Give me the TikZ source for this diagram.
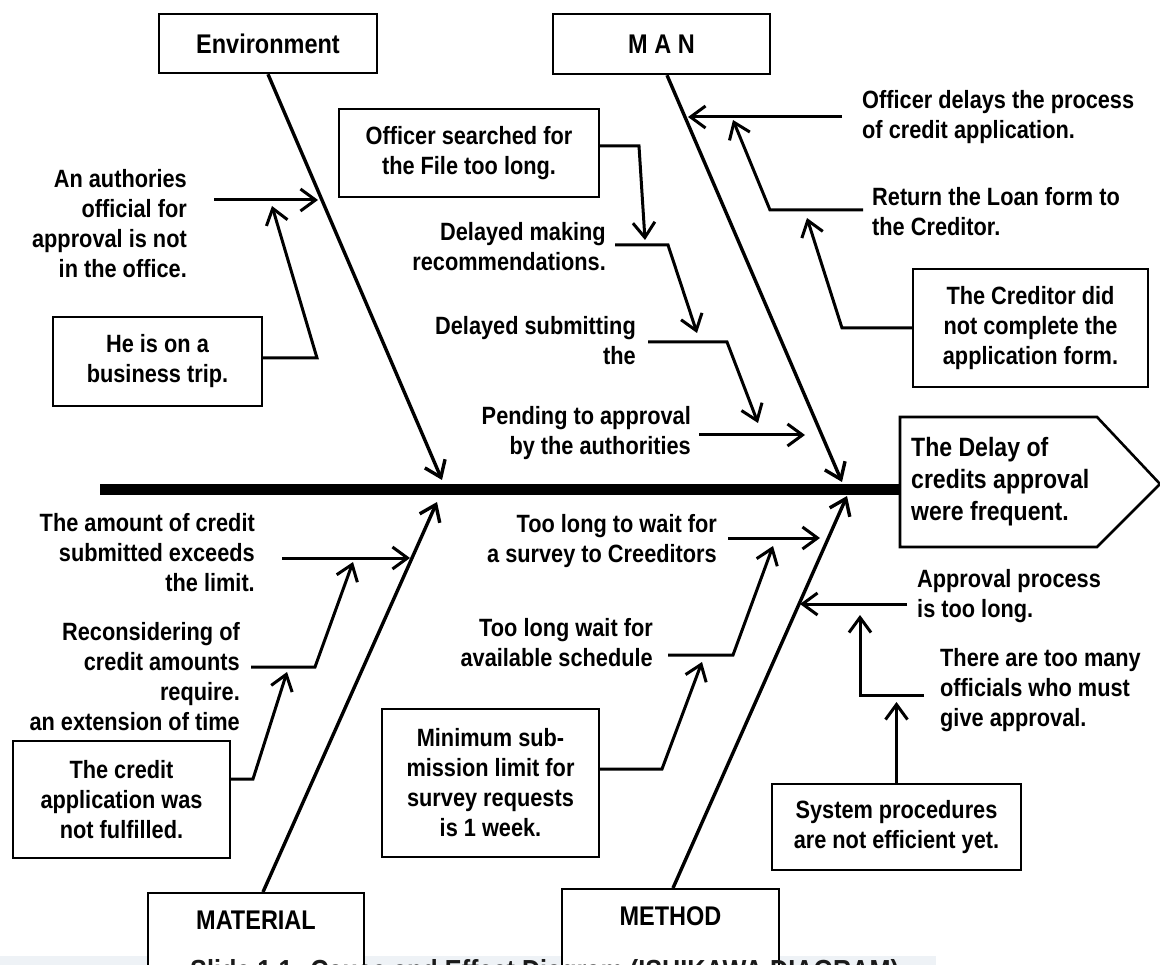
\documentclass[tikz,border=0pt]{standalone}
\usepackage{fontspec}
\setmainfont{Liberation Sans}[FakeStretch=0.87]
\usetikzlibrary{arrows.meta}
\newcommand\lblfont{\fontsize{25}{30}\selectfont\bfseries}
\newcommand\catfont{\fontsize{27}{32}\selectfont\bfseries}
\newcommand\effectfont{\fontsize{26.5}{32}\selectfont\bfseries}
\newcommand\capfont{\fontsize{29}{34}\selectfont\bfseries}
\definecolor{bandgray}{HTML}{EEF2F6}
\definecolor{captext}{HTML}{1A1A1A}
\begin{document}
\begin{tikzpicture}[x=1pt,y=-1pt,
  lbl/.style={font=\lblfont, inner sep=0pt},
  % multi-line labels are placed by the baseline of their last line
  rlab/.style={lbl, align=right, anchor=base east},
  llab/.style={lbl, align=left, anchor=base west},
  box/.style={draw, line width=2.4pt, fill=white, align=center, inner sep=0pt, font=\lblfont},
  catbox/.style={draw, line width=2.4pt, fill=white, align=center, inner sep=0pt, font=\catfont},
  tip/.style={-{Straight Barb[length=15pt,width=22pt]}},
  bone/.style={line width=3.4pt, tip},
  conn/.style={line width=3pt, tip},
  spine/.style={line width=11pt},
]
\path[use as bounding box] (0,0) rectangle (1160,965);
\clip (0,0) rectangle (1160,965);

% caption strip along the lower edge
\fill[bandgray] (0,956) rectangle (936,965);

% category boxes
\node[catbox, minimum width=218pt, minimum height=59pt] (env) at (268,43.5) {Environment};
\node[catbox, minimum width=217pt, minimum height=60pt] (man) at (661.5,44) {M A N};
\node[catbox, anchor=north, minimum width=216pt, inner ysep=16pt, text height=20pt, text depth=45pt] (mat) at (256,892) {MATERIAL};
\node[catbox, anchor=north, minimum width=217pt, inner ysep=16pt, text height=20pt, text depth=45pt] (met) at (670.5,888) {METHOD};

% effect head
\draw[line width=2.6pt, fill=white] (900,417) -- (1097,417) -- (1160,484) -- (1097,547) -- (900,547) -- cycle;
\node[font=\effectfont, inner sep=0pt, align=left, anchor=base west] (effect) at (911,521) {The Delay of\\credits approval\\were frequent.};

% spine
\coordinate (spS) at (100,490);
\coordinate (spE) at (900,490);
\draw[spine] (spS) -- (spE);

% bone tips
\coordinate (envT) at (442,480);
\coordinate (manT) at (842,482);
\coordinate (matT) at (437,502);
\coordinate (metT) at (847,496);

\draw[bone] (env.south) -- (envT);
\draw[bone] ([xshift=5.5pt]man.south) -- (manT);
\draw[bone] ([xshift=7pt]mat.north) -- (matT);
\draw[bone] ([xshift=2.5pt]met.north) -- (metT);

% ---------- Environment ----------
\node[rlab] (auth) at (187,278) {An authories\\official for\\approval is not\\in the office.};
\node[box, minimum width=209pt, minimum height=89pt] (trip) at (157.5,361.5) {He is on a\\business trip.};
\coordinate (authS) at (214,200);
\coordinate (authT) at (318,200);
\coordinate (tripK) at (317,358);
\coordinate (tripT) at (272,206);
\draw[conn] (authS) -- (authT);
\draw[conn] ([yshift=3.5pt]trip.east) -- (tripK) -- (tripT);

% ---------- Man: inner chain ----------
\node[box, minimum width=260pt, minimum height=88pt] (off) at (469,153) {Officer searched for\\the File too long.};
\node[rlab] (mak) at (606,271) {Delayed making\\recommendations.};
\node[rlab] (sub) at (636,365) {Delayed submitting\\the};
\node[rlab] (pen) at (691,455) {Pending to approval\\by the authorities};
\coordinate (offK) at (639,146);
\coordinate (offT) at (645,240);
\coordinate (makS) at (615,245);
\coordinate (makK) at (668,245);
\coordinate (makT) at (697,333);
\coordinate (subS) at (648,342);
\coordinate (subK) at (727,342);
\coordinate (subT) at (758,423);
\coordinate (penS) at (699,435);
\coordinate (penT) at (805,435);
\draw[conn] ([yshift=7pt]off.east) -- (offK) -- (offT);
\draw[conn] (makS) -- (makK) -- (makT);
\draw[conn] (subS) -- (subK) -- (subT);
\draw[conn] (penS) -- (penT);

% ---------- Man: right side ----------
\node[llab] (odl) at (862,139) {Officer delays the process\\of credit application.};
\node[llab] (ret) at (872,236) {Return the Loan form to\\the Creditor.};
\node[box, minimum width=235pt, minimum height=118pt] (cred) at (1030.5,328) {The Creditor did\\not complete the\\application form.};
\coordinate (odS) at (842,117);
\coordinate (odT) at (688,117);
\coordinate (retS) at (863,210);
\coordinate (retK) at (770,210);
\coordinate (retT) at (733,120);
\coordinate (crK) at (842,328);
\coordinate (crT) at (807,218);
\draw[conn] (odS) -- (odT);
\draw[conn] (retS) -- (retK) -- (retT);
\draw[conn] (cred.west) -- (crK) -- (crT);

% ---------- Material ----------
\node[rlab] (amt) at (255,591) {The amount of credit\\submitted exceeds\\the limit.};
\node[rlab] (rec) at (240,730) {Reconsidering of\\credit amounts\\require.\\an extension of time};
\node[box, minimum width=217pt, minimum height=117pt] (capp) at (121.5,799.5) {The credit\\application was\\not fulfilled.};
\coordinate (amS) at (282,558);
\coordinate (amT) at (410,558);
\coordinate (reS) at (251,667);
\coordinate (reK) at (315,667);
\coordinate (reT) at (353,562);
\coordinate (caK) at (253,779);
\coordinate (caT) at (287,672);
\draw[conn] (amS) -- (amT);
\draw[conn] (reS) -- (reK) -- (reT);
\draw[conn] ([yshift=20.5pt]capp.east) -- (caK) -- (caT);

% ---------- Method ----------
\node[rlab] (svy) at (717,562) {Too long to wait for\\a survey to Creeditors};
\node[rlab] (sch) at (653,666) {Too long wait for\\available schedule};
\node[box, minimum width=217pt, minimum height=148pt] (mins) at (490.5,783) {Minimum sub-\\mission limit for\\survey requests\\is 1 week.};
\node[llab] (apr) at (917,617) {Approval process\\is too long.};
\node[llab] (many) at (940,726) {There are too many\\officials who must\\give approval.};
\node[box, minimum width=249pt, minimum height=86pt] (sys) at (896.5,827) {System procedures\\are not efficient yet.};
\coordinate (svS) at (728,538);
\coordinate (svT) at (820,538);
\coordinate (scS) at (668,655);
\coordinate (scK) at (733,655);
\coordinate (scT) at (773,546);
\coordinate (miK) at (662,769);
\coordinate (miT) at (702,662);
\coordinate (apS) at (907,604);
\coordinate (apT) at (800,604);
\coordinate (tmS) at (924,695);
\coordinate (tmK) at (860,695);
\coordinate (tmT) at (860,615);
\coordinate (syT) at (896.5,702);
\draw[conn] (svS) -- (svT);
\draw[conn] (scS) -- (scK) -- (scT);
\draw[conn] ([yshift=14pt]mins.east) -- (miK) -- (miT);
\draw[conn] (apS) -- (apT);
\draw[conn] (tmS) -- (tmK) -- (tmT);
\draw[conn] (sys.north) -- (syT);

% caption, cut by the lower edge
\node[font=\capfont, text=captext, inner sep=0pt, anchor=base west] (caption) at (190,980) {Slide 1.1: Cause and Effect Diagram (ISHIKAWA DIAGRAM)};
\end{tikzpicture}
\end{document}
